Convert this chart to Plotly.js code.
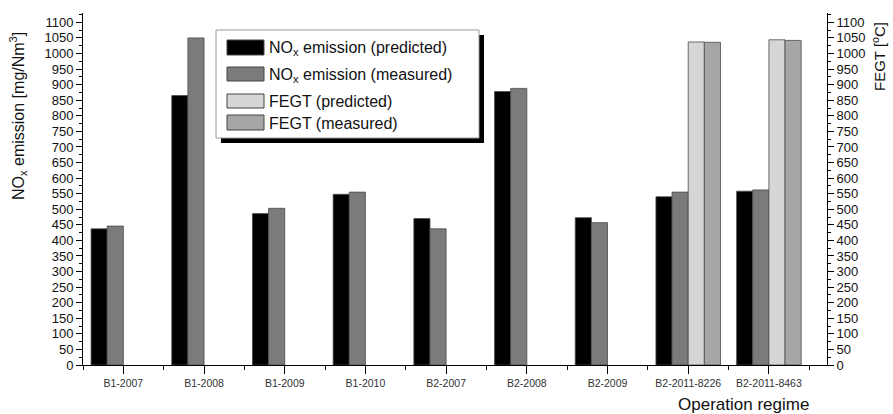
<!DOCTYPE html>
<html>
<head>
<meta charset="utf-8">
<script src="https://cdn.plot.ly/plotly-3.0.1.min.js"></script>
<style>html,body{margin:0;padding:0;background:#fff;}#chart{width:893px;height:414px;}</style>
</head>
<body>
<div id="chart"></div>
<script>
const categories = ["B1-2007","B1-2008","B1-2009","B1-2010","B2-2007","B2-2008","B2-2009","B2-2011-8226","B2-2011-8463"];
const noxPredicted = [437, 865, 486, 548, 470, 878, 473, 540, 558];
const noxMeasured  = [446, 1050, 503, 555, 437, 888, 457, 555, 562];
const fegtPredicted = [null, null, null, null, null, null, null, 1037, 1044];
const fegtMeasured  = [null, null, null, null, null, null, null, 1036, 1042];
const seriesNames = ["NO<sub>x</sub> emission (predicted)", "NO<sub>x</sub> emission (measured)", "FEGT (predicted)", "FEGT (measured)"];
const seriesColors = ["#000000", "#7b7b7b", "#d6d6d6", "#a6a6a6"];

const xi = categories.map((c, i) => i);
const FONT = "Liberation Sans, Arial, sans-serif";
const lineStyle = {color: "#4a4a4a", width: 0.8};

const traces = [
  {type: "bar", x: xi, y: noxPredicted, width: 0.2, offset: -0.4, marker: {color: seriesColors[0], line: lineStyle}, name: seriesNames[0], xaxis: "x", yaxis: "y"},
  {type: "bar", x: xi, y: noxMeasured, width: 0.2, offset: -0.2, marker: {color: seriesColors[1], line: lineStyle}, name: seriesNames[1], xaxis: "x", yaxis: "y"},
  {type: "bar", x: xi, y: fegtPredicted, width: 0.2, offset: 0, marker: {color: seriesColors[2], line: lineStyle}, name: seriesNames[2], xaxis: "x", yaxis: "y2"},
  {type: "bar", x: xi, y: fegtMeasured, width: 0.2, offset: 0.2, marker: {color: seriesColors[3], line: lineStyle}, name: seriesNames[3], xaxis: "x", yaxis: "y2"}
];

const yRange = [0, 1130];
const xRange = [-0.5, 8.72];

const W = 893, H = 414;
const M = {l: 83, r: 66, t: 13, b: 49};
const PW = W - M.l - M.r, PH = H - M.t - M.b;
const px = v => (v - M.l) / PW, py = v => (H - M.b - v) / PH;

// manual legend
const lgX0 = 216, lgX1 = 479, lgY0 = 30, lgY1 = 138;
const shapes = [
  {type: "rect", xref: "paper", yref: "paper", x0: px(lgX0 + 5), x1: px(lgX1 + 5), y0: py(lgY0 + 5), y1: py(lgY1 + 5), fillcolor: "#000", line: {width: 0}, layer: "above"},
  {type: "rect", xref: "paper", yref: "paper", x0: px(lgX0), x1: px(lgX1), y0: py(lgY0), y1: py(lgY1), fillcolor: "#fff", line: {color: "#9a9a9a", width: 1}, layer: "above"}
];
const entryY = [[40, 55], [67, 81], [94, 108], [115, 130]];
const textY = [48, 75, 101, 123];
const annotations = [];
seriesNames.forEach((n, i) => {
  shapes.push({type: "rect", xref: "paper", yref: "paper", x0: px(227), x1: px(264), y0: py(entryY[i][0]), y1: py(entryY[i][1]), fillcolor: seriesColors[i], line: {color: "#444", width: 1}, layer: "above"});
  annotations.push({xref: "paper", yref: "paper", x: px(267), y: py(textY[i]), xanchor: "left", yanchor: "middle", text: n, showarrow: false, font: {family: FONT, size: 16, color: "#111"}});
});

annotations.push({xref: "paper", yref: "paper", x: px(18), y: py(116), text: "NO<sub>x</sub> emission [mg/Nm<sup>3</sup>]", textangle: -90, showarrow: false, font: {family: FONT, size: 16, color: "#111"}, xanchor: "center", yanchor: "middle"});
annotations.push({xref: "paper", yref: "paper", x: px(878), y: py(57), text: "FEGT [<sup>o</sup>C]", textangle: -90, showarrow: false, font: {family: FONT, size: 15, color: "#111"}, xanchor: "center", yanchor: "middle"});
annotations.push({xref: "paper", yref: "paper", x: px(743), y: py(405), text: "Operation regime", showarrow: false, font: {family: FONT, size: 17, color: "#111"}, xanchor: "center", yanchor: "middle"});

const layout = {
  width: W, height: H,
  margin: M,
  paper_bgcolor: "#fff", plot_bgcolor: "#fff",
  showlegend: false,
  barmode: "overlay",
  font: {family: FONT, color: "#111"},
  xaxis: {
    range: xRange, tickvals: xi, ticktext: categories,
    showgrid: false, zeroline: false, showline: true, linecolor: "#000", linewidth: 1,
    ticks: "outside", ticklen: 8, tickcolor: "#000", tickwidth: 1,
    tickfont: {family: FONT, size: 10.5, color: "#333"},
    minor: {dtick: 0.5, tick0: 0.5, ticks: "outside", ticklen: 4, tickcolor: "#000", tickwidth: 1, showgrid: false}
  },
  xaxis2: {
    overlaying: "x", side: "top", anchor: "y", range: xRange,
    showgrid: false, zeroline: false, showline: true, linecolor: "#000", linewidth: 1,
    ticks: "inside", ticklen: 5, tickcolor: "#000", dtick: 0.5, tick0: 0, showticklabels: false
  },
  yaxis: {
    range: yRange, dtick: 50, tick0: 0,
    showgrid: false, zeroline: false, showline: true, linecolor: "#000", linewidth: 1,
    ticks: "outside", ticklen: 6, tickcolor: "#000", tickwidth: 1,
    tickfont: {family: FONT, size: 13, color: "#111"},
    minor: {dtick: 25, ticks: "outside", ticklen: 3, tickcolor: "#000", showgrid: false}
  },
  yaxis2: {
    overlaying: "y", side: "right", range: yRange, dtick: 50, tick0: 0,
    showgrid: false, zeroline: false, showline: true, linecolor: "#000", linewidth: 1,
    ticks: "outside", ticklen: 6, tickcolor: "#000", tickwidth: 1,
    tickfont: {family: FONT, size: 13, color: "#111"},
    minor: {dtick: 25, ticks: "outside", ticklen: 3, tickcolor: "#000", showgrid: false}
  },
  shapes: shapes,
  annotations: annotations
};

Plotly.newPlot("chart", traces, layout, {displayModeBar: false, staticPlot: true});
</script>
</body>
</html>
